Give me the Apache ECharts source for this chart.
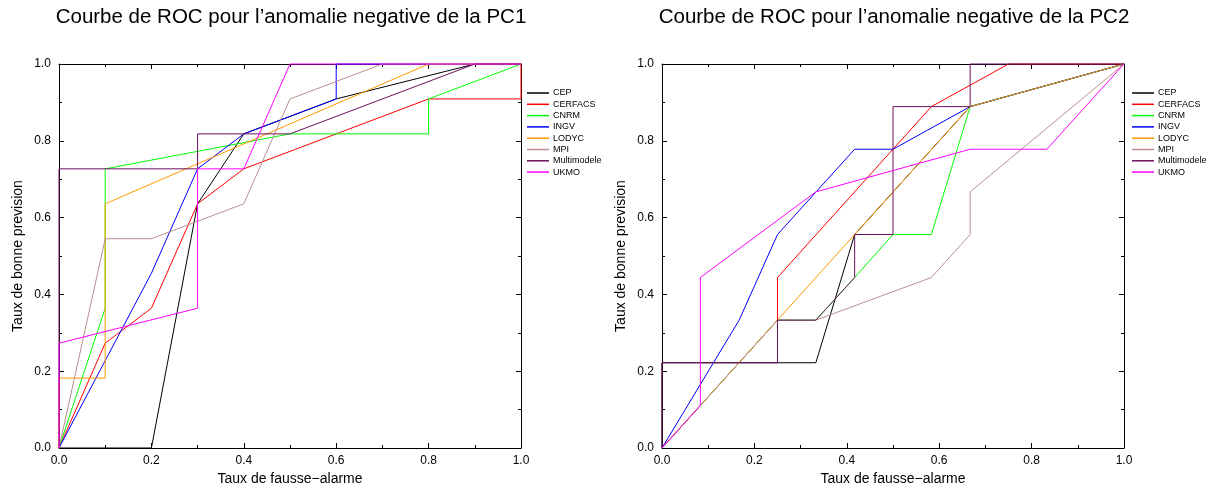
<!DOCTYPE html>
<html>
<head>
<meta charset="utf-8">
<script src="https://cdn.jsdelivr.net/npm/echarts@6/dist/echarts.min.js"></script>
<style>html,body{margin:0;padding:0;background:#fff}#c{width:1212px;height:486px}</style>
</head>
<body>
<div id="c"></div>
<script>
// ---- data ----
const names = ['CEP','CERFACS','CNRM','INGV','LODYC','MPI','Multimodele','UKMO'];
const colors = ['#000000','#ff0000','#00ff00','#0000ff','#ff9900','#bc8f8f','#6e0f5e','#ff00ff'];
const titles = ['Courbe de ROC pour l\u2019anomalie negative de la PC1','Courbe de ROC pour l\u2019anomalie negative de la PC2'];
const xName = 'Taux de fausse\u2212alarme';
const yName = 'Taux de bonne prevision';

// PC1 curves [false alarm rate, hit rate]
const pc1_CEP = [[0,0],[0.2,0],[0.3,0.636],[0.4,0.818],[0.6,0.909],[0.9,1],[1,1]];
const pc1_CERFACS = [[0,0],[0.1,0.273],[0.2,0.364],[0.3,0.636],[0.4,0.727],[0.8,0.909],[1,0.909],[1,1]];
const pc1_CNRM = [[0,0],[0.1,0.364],[0.1,0.727],[0.5,0.818],[0.8,0.818],[0.8,0.909],[1,1]];
const pc1_INGV = [[0,0],[0.2,0.455],[0.3,0.727],[0.4,0.818],[0.6,0.909],[0.6,1],[1,1]];
const pc1_LODYC = [[0,0],[0,0.182],[0.1,0.182],[0.1,0.636],[0.8,1],[1,1]];
const pc1_MPI = [[0,0],[0.1,0.545],[0.2,0.545],[0.4,0.636],[0.5,0.909],[0.7,1],[1,1]];
const pc1_Multimodele = [[0,0],[0,0.727],[0.3,0.727],[0.3,0.818],[0.5,0.818],[0.9,1],[1,1]];
const pc1_UKMO = [[0,0],[0,0.273],[0.3,0.364],[0.3,0.727],[0.4,0.727],[0.5,1],[1,1]];

// PC2 curves
const pc2_CEP = [[0,0],[0,0.222],[0.333,0.222],[0.417,0.556],[0.667,0.889],[1,1]];
const pc2_CERFACS = [[0,0],[0.25,0.333],[0.25,0.444],[0.583,0.889],[0.75,1],[1,1]];
const pc2_CNRM = [[0,0],[0.25,0.333],[0.333,0.333],[0.417,0.444],[0.5,0.556],[0.583,0.556],[0.667,0.889],[1,1]];
const pc2_INGV = [[0,0],[0.167,0.333],[0.25,0.556],[0.417,0.778],[0.5,0.778],[0.667,0.889],[1,1]];
const pc2_LODYC = [[0,0],[0.667,0.889],[1,1]];
const pc2_MPI = [[0,0],[0.25,0.333],[0.333,0.333],[0.583,0.444],[0.667,0.556],[0.667,0.667],[1,1]];
const pc2_Multimodele = [[0,0],[0,0.222],[0.25,0.222],[0.25,0.333],[0.333,0.333],[0.417,0.444],[0.417,0.556],[0.5,0.556],[0.5,0.889],[0.667,0.889],[0.667,1],[1,1]];
const pc2_UKMO = [[0,0],[0.083,0.111],[0.083,0.444],[0.333,0.667],[0.667,0.778],[0.833,0.778],[1,1]];

const pc1 = [pc1_CEP,pc1_CERFACS,pc1_CNRM,pc1_INGV,pc1_LODYC,pc1_MPI,pc1_Multimodele,pc1_UKMO];
const pc2 = [pc2_CEP,pc2_CERFACS,pc2_CNRM,pc2_INGV,pc2_LODYC,pc2_MPI,pc2_Multimodele,pc2_UKMO];

// ---- chart ----
const FONT = '"Liberation Sans", Arial, Helvetica, sans-serif';
const chart = echarts.init(document.getElementById('c'), null, {renderer:'canvas'});
const grids = [
  {left:59, top:64, width:462, height:384, containLabel:false, outerBoundsMode:'none'},
  {left:662, top:64, width:462, height:384, containLabel:false, outerBoundsMode:'none'}
];
const lineCol = '#000';

function mkX(gi, pos, labels){
  return {type:'value', gridIndex:gi, position:pos, min:0, max:1, interval:0.2,
    name: labels ? xName : '', nameLocation:'middle', nameGap:19,
    nameTextStyle:{fontFamily:FONT, fontSize:14, color:'#000'},
    axisLine:{show:true, onZero:false, lineStyle:{color:lineCol, width:1}},
    axisTick:{show:true, inside:true, length:5, lineStyle:{color:lineCol}},
    minorTick:{show:true, splitNumber:2, length:3, lineStyle:{color:lineCol}},
    axisLabel:{show:labels, margin:7, fontFamily:FONT, fontSize:12, color:'#000', formatter:v=>v.toFixed(1)},
    splitLine:{show:false}, minorSplitLine:{show:false}};
}
function mkY(gi, pos, labels){
  return {type:'value', gridIndex:gi, position:pos, min:0, max:1, interval:0.2,
    name: labels ? yName : '', nameLocation:'middle', nameGap:34, nameRotate:90,
    nameTextStyle:{fontFamily:FONT, fontSize:14, color:'#000'},
    axisLine:{show:true, onZero:false, lineStyle:{color:lineCol, width:1}},
    axisTick:{show:true, inside:true, length:5, lineStyle:{color:lineCol}},
    minorTick:{show:true, splitNumber:2, length:3, lineStyle:{color:lineCol}},
    axisLabel:{show:labels, margin:8, fontFamily:FONT, fontSize:12, color:'#000', formatter:v=>v.toFixed(1)},
    splitLine:{show:false}, minorSplitLine:{show:false}};
}

const xAxes = [mkX(0,'bottom',true), mkX(0,'top',false), mkX(1,'bottom',true), mkX(1,'top',false)];
const yAxes = [mkY(0,'left',true), mkY(0,'right',false), mkY(1,'left',true), mkY(1,'right',false)];

const series = [];
[pc1, pc2].forEach((set, gi) => {
  set.forEach((d, i) => {
    series.push({type:'line', name:names[i], xAxisIndex:gi*2, yAxisIndex:gi*2,
      data:d, symbol:'none', showSymbol:false, smooth:false, clip:false,
      lineStyle:{color:colors[i], width:1}, itemStyle:{color:colors[i]},
      emphasis:{disabled:true}, z:2+i});
  });
});

function mkLegend(left){
  return {left:left, top:88, padding:0, orient:'vertical', icon:'rect', itemWidth:22, itemHeight:1.5,
    itemGap:1.3, selectedMode:false, data:names,
    textStyle:{fontFamily:FONT, fontSize:9, color:'#000', lineHeight:10, padding:[0,0,0,-1]}};
}

chart.setOption({
  animation:false,
  backgroundColor:'#fff',
  color:colors,
  title:[
    {text:titles[0], left:286, top:2, textAlign:'center', textStyle:{fontFamily:FONT, fontSize:20.5, fontWeight:'normal', color:'#000'}},
    {text:titles[1], left:889, top:2, textAlign:'center', textStyle:{fontFamily:FONT, fontSize:20.5, fontWeight:'normal', color:'#000'}}
  ],
  legend:[mkLegend(527), mkLegend(1132)],
  grid:grids,
  xAxis:xAxes,
  yAxis:yAxes,
  series:series
});
</script>
</body>
</html>
